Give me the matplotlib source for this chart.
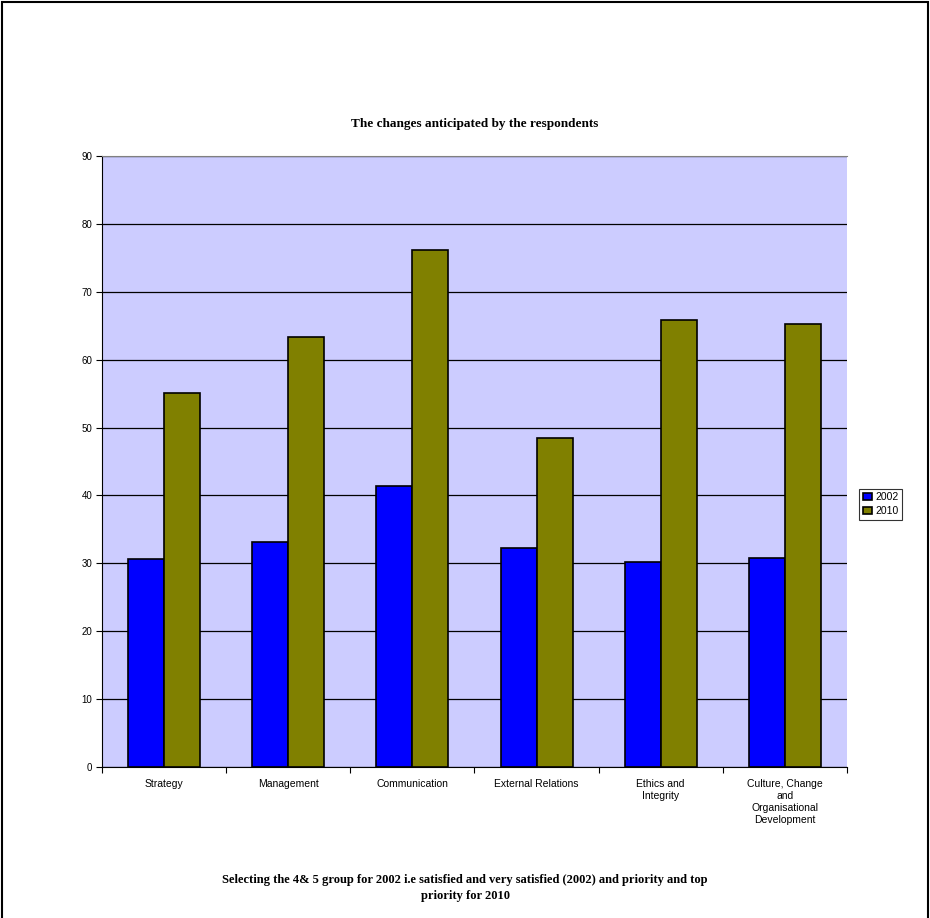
import matplotlib
matplotlib.use("Agg")
import matplotlib.pyplot as plt
import numpy as np

categories = ["Strategy", "Management", "Communication", "External Relations",
              "Ethics and\nIntegrity", "Culture, Change\nand\nOrganisational\nDevelopment"]
series_names = ["2002", "2010"]
values_2002 = [30.7, 33.1, 41.4, 32.2, 30.2, 30.8]
values_2010 = [55.1, 63.3, 76.2, 48.5, 65.9, 65.3]
y_ticks = [0, 10, 20, 30, 40, 50, 60, 70, 80, 90]

title = "The changes anticipated by the respondents"
note = ("Selecting the 4& 5 group for 2002 i.e satisfied and very satisfied (2002) and priority and top\n"
        "priority for 2010")

fig = plt.figure(figsize=(9.3, 9.18), dpi=100)
ax = fig.add_axes([0.1097, 0.1645, 0.801, 0.6656])
ax.set_facecolor("#CCCCFF")

x = np.arange(len(categories))
w = 0.29
ax.bar(x - w / 2, values_2002, w, color="#0000FF", edgecolor="black", linewidth=1.2,
       label=series_names[0], zorder=3)
ax.bar(x + w / 2, values_2010, w, color="#808000", edgecolor="black", linewidth=1.2,
       label=series_names[1], zorder=3)

ax.set_xlim(-0.5, len(categories) - 0.5)
ax.set_ylim(0, 90)
ax.set_yticks(y_ticks)
ax.set_yticklabels([str(t) for t in y_ticks], fontsize=7, family="Liberation Sans")
ax.yaxis.grid(True, color="black", linewidth=0.9, zorder=0)
ax.set_axisbelow(True)

ax.set_xticks(np.arange(len(categories) + 1) - 0.5)
ax.set_xticklabels([])
ax.set_xticks(x, minor=True)
ax.set_xticklabels(categories, minor=True, fontsize=7.5, family="Liberation Sans",
                   linespacing=1.25, va="top")
ax.tick_params(axis="x", which="minor", length=0, pad=9)
ax.tick_params(axis="x", which="major", length=4, direction="out")
ax.tick_params(axis="y", length=4, direction="out", pad=3)

ax.spines["right"].set_visible(False)
ax.spines["top"].set_color("#808080")
ax.spines["left"].set_color("black")
ax.spines["bottom"].set_color("black")

leg = ax.legend(loc="center left", bbox_to_anchor=(1.009, 0.43), frameon=True, fancybox=False,
                edgecolor="black", handlelength=0.9, handleheight=0.7,
                handletextpad=0.3, borderpad=0.35, labelspacing=0.35,
                prop={"family": "Liberation Sans", "size": 7.5})
leg.get_frame().set_linewidth(0.8)

fig.text(0.5102, 1 - 124 / 918, title, ha="center", va="center", fontsize=9.5,
         fontweight="bold", family="Liberation Serif")
fig.text(0.5, 1 - 888 / 918, note, ha="center", va="center", fontsize=9,
         fontweight="bold", family="Liberation Serif", linespacing=1.45)

# outer frame of the chart area
border = plt.Rectangle((0.002, -0.01), 0.996, 1.008, transform=fig.transFigure,
                       fill=False, edgecolor="black", linewidth=1.5)
fig.patches.append(border)

fig.savefig("out.png", dpi=100)
